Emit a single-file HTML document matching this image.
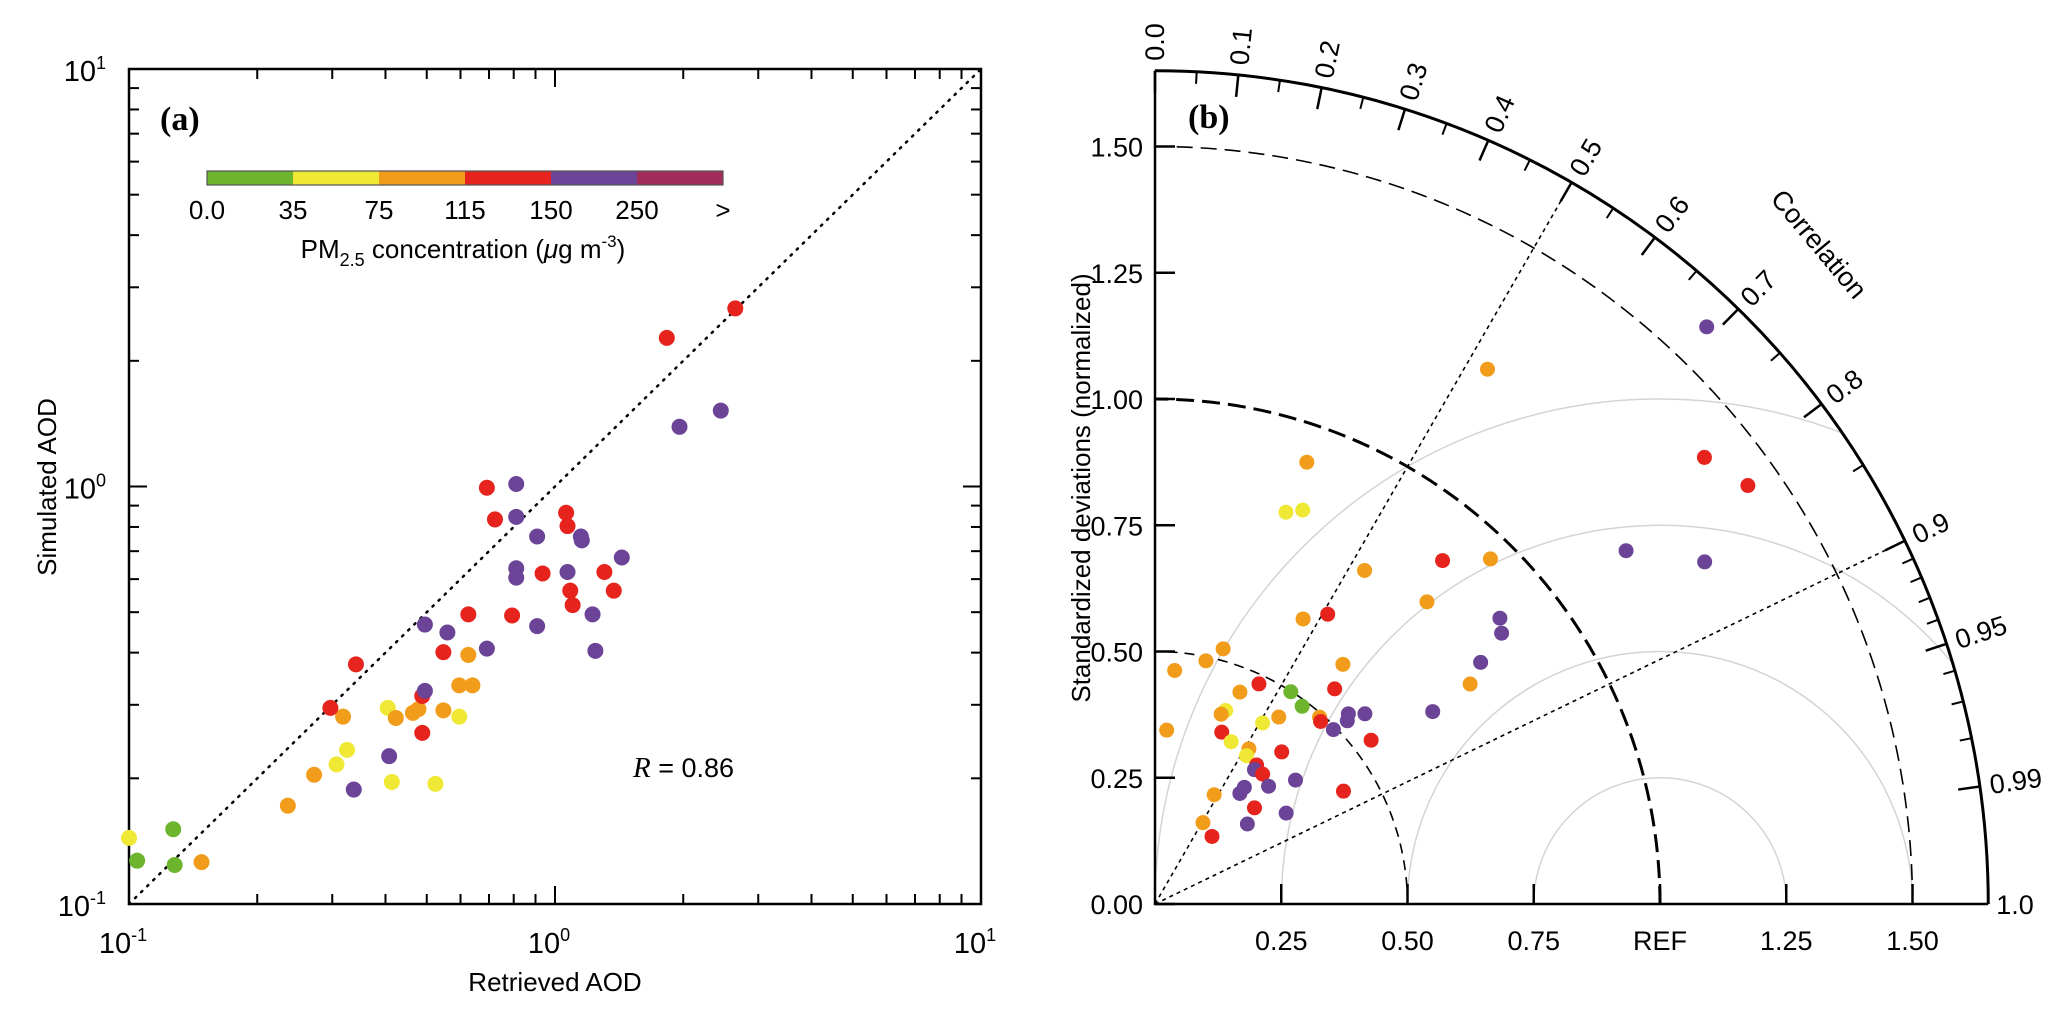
<!DOCTYPE html>
<html><head><meta charset="utf-8"><style>
html,body{margin:0;padding:0;background:#fff;overflow:hidden;width:2067px;height:1017px}
svg{display:block;font-family:"Liberation Sans",Arial,sans-serif}
</style></head><body>
<svg id="fig" width="2067" height="1017" viewBox="0 0 2067 1017">
<rect x="0" y="0" width="2067" height="1017" fill="#fff"/>
<g id="pa"></g>
<g id="pb"></g>
</svg>
<script>
// ---- Panel (a) data ----
const aodRetrieved = [0.1045,0.127,0.128,0.1,0.148,0.236,0.272,0.318,0.307,0.325,0.297,0.405,0.414,0.408,0.337,0.341,0.423,0.464,0.478,0.488,0.488,0.495,0.495,0.547,0.596,0.524,0.596,0.640,0.626,0.559,0.547,0.626,0.692,0.692,0.723,0.811,0.811,0.793,0.811,0.811,0.935,0.908,0.908,1.062,1.07,1.086,1.10,1.07,1.15,1.156,1.225,1.244,1.306,1.374,1.435,1.83,1.96,2.45,2.65];
const aodSimulated = [0.127,0.151,0.124,0.144,0.126,0.172,0.204,0.281,0.216,0.234,0.295,0.295,0.196,0.226,0.188,0.375,0.279,0.287,0.293,0.257,0.315,0.324,0.467,0.291,0.281,0.194,0.334,0.334,0.395,0.447,0.401,0.494,0.409,0.993,0.834,1.014,0.846,0.491,0.605,0.637,0.619,0.759,0.463,0.865,0.804,0.563,0.520,0.624,0.759,0.743,0.494,0.404,0.624,0.563,0.676,2.27,1.39,1.52,2.67];
const aodClass = ['g','g','g','y','o','o','o','o','y','y','r','y','y','p','p','r','o','o','o','r','r','p','p','o','y','y','o','o','o','p','r','r','p','r','r','p','p','r','p','p','r','p','p','r','r','r','r','p','p','p','p','p','r','r','p','r','p','p','r'];
const rText = "R = 0.86";
const cbLabels = ['0.0','35','75','115','150','250','>'];
const cbColors = ['#6cb52d','#efe834','#f29c1c','#e6231d','#6b4397','#a22c5a'];
const clsColor = {g:'#6cb52d',y:'#efe834',o:'#f29c1c',r:'#e6231d',p:'#6b4397'};
// ---- Panel (b) data ----
const tayStd = [1.581,1.247,1.402,1.437,0.925,0.818,0.833,1.166,1.282,0.887,0.953,0.780,0.805,0.668,0.636,0.887,0.871,0.523,0.492,0.464,0.603,0.803,0.761,0.482,0.499,0.555,0.452,0.488,0.408,0.398,0.444,0.417,0.493,0.488,0.537,0.561,0.526,0.669,0.345,0.365,0.494,0.537,0.355,0.359,0.345,0.392,0.341,0.331,0.334,0.371,0.324,0.291,0.276,0.246,0.435,0.274,0.316,0.242,0.187,0.175];
const tayCorr = [0.691,0.528,0.776,0.817,0.325,0.317,0.351,0.800,0.849,0.642,0.697,0.532,0.669,0.512,0.461,0.770,0.788,0.258,0.205,0.084,0.617,0.803,0.820,0.427,0.539,0.641,0.372,0.597,0.343,0.329,0.552,0.511,0.661,0.672,0.713,0.741,0.724,0.822,0.067,0.362,0.715,0.797,0.425,0.518,0.525,0.640,0.590,0.595,0.638,0.750,0.694,0.608,0.609,0.476,0.858,0.719,0.822,0.756,0.508,0.645];
const tayClass = ['p','o','r','r','o','y','y','p','p','r','o','o','o','r','o','p','p','o','o','o','o','p','o','r','g','r','o','g','y','o','o','y','o','r','p','p','p','p','o','r','p','r','y','o','y','r','r','p','r','p','p','p','p','o','r','r','p','p','o','r'];
const stdTicks = [0.25,0.5,0.75,1.0,1.25,1.5];
const stdTickLabels = ['0.25','0.50','0.75','REF','1.25','1.50'];
const yTickVals = [0,0.25,0.5,0.75,1.0,1.25,1.5];
const yTickLabels = ['0.00','0.25','0.50','0.75','1.00','1.25','1.50'];
const corrMajor = [0,0.1,0.2,0.3,0.4,0.5,0.6,0.7,0.8,0.9,0.95,0.99];
const corrMajorLabels = ['0.0','0.1','0.2','0.3','0.4','0.5','0.6','0.7','0.8','0.9','0.95','0.99'];
const corrMinor = [0.05,0.15,0.25,0.35,0.45,0.55,0.65,0.75,0.85,0.91,0.92,0.93,0.94,0.96,0.97,0.98];
const rmsRadii = [0.25,0.5,0.75,1.0];

const NS='http://www.w3.org/2000/svg';
function mk(parent,tag,attrs,text){const e=document.createElementNS(NS,tag);for(const k in attrs)e.setAttribute(k,attrs[k]);if(text!==undefined)e.textContent=text;parent.appendChild(e);return e;}

// ===== Panel A =====
const pa=document.getElementById('pa');
const AX0=129,AX1=981,AY0=904,AY1=69;
const xA=v=>AX0+(Math.log10(v)+1)/2*(AX1-AX0);
const yA=v=>AY0-(Math.log10(v)+1)/2*(AY0-AY1);
let fr=mk(pa,'rect',{x:AX0,y:AY1,width:AX1-AX0,height:AY0-AY1,fill:'none',stroke:'#000','stroke-width':2.5});


for(let d=-1;d<=0;d++){for(let m=1;m<=10;m++){const v=m*Math.pow(10,d);const L=(m===1||m===10)?18:10;
 const x=xA(v),y=yA(v);
 mk(pa,'line',{x1:x,y1:AY0,x2:x,y2:AY0-L,stroke:'#000','stroke-width':2});
 mk(pa,'line',{x1:x,y1:AY1,x2:x,y2:AY1+L,stroke:'#000','stroke-width':2});
 mk(pa,'line',{x1:AX0,y1:y,x2:AX0+L,y2:y,stroke:'#000','stroke-width':2});
 mk(pa,'line',{x1:AX1,y1:y,x2:AX1-L,y2:y,stroke:'#000','stroke-width':2});
}}
const expLbl=['-1','0','1'];
[0.1,1,10].forEach((v,i)=>{
 let t=mk(pa,'text',{x:xA(v)-6,y:953,'font-size':29,'text-anchor':'middle'});
 
 
 mk(t,'tspan',{},'10');mk(t,'tspan',{dy:-12,'font-size':18},expLbl[i]);
 let u=mk(pa,'text',{x:106,y:yA(v)+12,'font-size':29,'text-anchor':'end'});
 
 
 mk(u,'tspan',{},'10');mk(u,'tspan',{dy:-12,'font-size':18},expLbl[i]);
});
let xt=mk(pa,'text',{x:555,y:991,'font-size':26,'text-anchor':'middle'},'Retrieved AOD');


let yt=mk(pa,'text',{x:0,y:0,'font-size':26,'text-anchor':'middle',transform:'translate(56,487) rotate(-90)'},'Simulated AOD');


let la=mk(pa,'text',{x:160,y:130,'font-size':34,'font-weight':'bold','font-family':'Liberation Serif,serif'},'(a)');


let one=mk(pa,'line',{x1:xA(0.1),y1:yA(0.1),x2:xA(10),y2:yA(10),stroke:'#000','stroke-width':2.5,'stroke-dasharray':'1.5 7','stroke-linecap':'round'});


const cbX0=207,cbX1=723,cbY=171,cbH=14;const seg=(cbX1-cbX0)/cbColors.length;
cbColors.forEach((c,i)=>{let r=mk(pa,'rect',{x:cbX0+i*seg,y:cbY,width:seg,height:cbH,fill:c});
 
 });
mk(pa,'rect',{x:cbX0,y:cbY,width:cbX1-cbX0,height:cbH,fill:'none',stroke:'#555','stroke-width':1.2});
cbLabels.forEach((l,i)=>{let t=mk(pa,'text',{x:cbX0+i*seg,y:219,'font-size':26,'text-anchor':'middle'},l);
 
 });
let cbt=mk(pa,'text',{x:463,y:258,'font-size':26,'text-anchor':'middle'});


mk(cbt,'tspan',{},'PM');mk(cbt,'tspan',{dy:8,'font-size':18},'2.5');mk(cbt,'tspan',{dy:-8},' concentration (');
mk(cbt,'tspan',{'font-style':'italic'},'μ');mk(cbt,'tspan',{},'g m');mk(cbt,'tspan',{dy:-11,'font-size':17},'-3');mk(cbt,'tspan',{dy:11},')');
aodRetrieved.forEach((v,i)=>{let c=mk(pa,'circle',{cx:xA(v),cy:yA(aodSimulated[i]),r:8,fill:clsColor[aodClass[i]]});
 
 });
let rt=mk(pa,'text',{x:633,y:777,'font-size':27});


mk(rt,'tspan',{'font-style':'italic','font-family':'Liberation Serif,serif','font-size':29},'R');mk(rt,'tspan',{},rText.slice(1));

// ===== Panel B =====
const pb=document.getElementById('pb');
const OX=1155,OY=904,U=505,RMAX=1.65;
const tx=(r,c)=>OX+r*c*U, ty=(r,c)=>OY-r*Math.sqrt(1-c*c)*U;
const defs=mk(pb,'defs',{});const cp=mk(defs,'clipPath',{id:'qc'});
mk(cp,'path',{d:`M${OX},${OY} L${OX+RMAX*U},${OY} A${RMAX*U},${RMAX*U} 0 0 0 ${OX},${OY-RMAX*U} Z`});
const rg=mk(pb,'g',{'clip-path':'url(#qc)'});
rmsRadii.forEach(r=>{let c=mk(rg,'circle',{cx:OX+U,cy:OY,r:r*U,fill:'none',stroke:'#d4d4d4','stroke-width':1.5});
 
 });
[[0.5,'10 7',1.6],[1.0,'18 8',3],[1.5,'16 8',1.6]].forEach(([s,da,w])=>{
 let a=mk(pb,'path',{d:`M${OX+s*U},${OY} A${s*U},${s*U} 0 0 0 ${OX},${OY-s*U}`,fill:'none',stroke:'#000','stroke-width':w,'stroke-dasharray':da});
 
 });
[0.5,0.9].forEach(c=>{let l=mk(pb,'line',{x1:OX,y1:OY,x2:tx(RMAX,c),y2:ty(RMAX,c),stroke:'#000','stroke-width':1.6,'stroke-dasharray':'4 4'});
 
 });
let ax=mk(pb,'path',{d:`M${OX},${OY-RMAX*U} L${OX},${OY} L${OX+RMAX*U},${OY}`,fill:'none',stroke:'#000','stroke-width':2.5});


let arc=mk(pb,'path',{d:`M${OX+RMAX*U},${OY} A${RMAX*U},${RMAX*U} 0 0 0 ${OX},${OY-RMAX*U}`,fill:'none',stroke:'#000','stroke-width':3});


stdTicks.forEach((s,i)=>{mk(pb,'line',{x1:OX+s*U,y1:OY,x2:OX+s*U,y2:OY-20,stroke:'#000','stroke-width':2.5});
 let t=mk(pb,'text',{x:OX+s*U,y:OY+46,'font-size':27,'text-anchor':'middle'},stdTickLabels[i]);
 
 });
let t10=mk(pb,'text',{x:OX+RMAX*U+8,y:OY+10,'font-size':27},'1.0');


yTickVals.forEach((s,i)=>{mk(pb,'line',{x1:OX,y1:OY-s*U,x2:OX+20,y2:OY-s*U,stroke:'#000','stroke-width':2.5});
 let t=mk(pb,'text',{x:OX-12,y:OY-s*U+10,'font-size':27,'text-anchor':'end'},yTickLabels[i]);
 
 });
corrMajor.forEach((c,i)=>{const s=Math.sqrt(1-c*c);const R=RMAX*U;
 mk(pb,'line',{x1:OX+R*c,y1:OY-R*s,x2:OX+(R-22)*c,y2:OY-(R-22)*s,stroke:'#000','stroke-width':2.5});
 const deg=Math.acos(c)*180/Math.PI;const lx=OX+(R+10)*c,ly=OY-(R+10)*s;
 let t=mk(pb,'text',{x:0,y:0,'font-size':27,transform:`translate(${lx},${ly}) rotate(${-deg}) translate(0,9)`},corrMajorLabels[i]);
 
 });
corrMinor.forEach(c=>{const s=Math.sqrt(1-c*c);const R=RMAX*U;
 mk(pb,'line',{x1:OX+R*c,y1:OY-R*s,x2:OX+(R-12)*c,y2:OY-(R-12)*s,stroke:'#000','stroke-width':2});});
let ct=mk(pb,'text',{x:0,y:0,'font-size':27,'text-anchor':'middle',transform:'translate(1812,250) rotate(50)'},'Correlation');


let syt=mk(pb,'text',{x:0,y:0,'font-size':26,'text-anchor':'middle',transform:'translate(1090,488) rotate(-90)'},'Standardized  deviations  (normalized)');


let lb=mk(pb,'text',{x:1188,y:128,'font-size':34,'font-weight':'bold','font-family':'Liberation Serif,serif'},'(b)');


tayStd.forEach((r,i)=>{let c=mk(pb,'circle',{cx:tx(r,tayCorr[i]),cy:ty(r,tayCorr[i]),r:7.5,fill:clsColor[tayClass[i]]});
 
 });
</script>
</body></html>
